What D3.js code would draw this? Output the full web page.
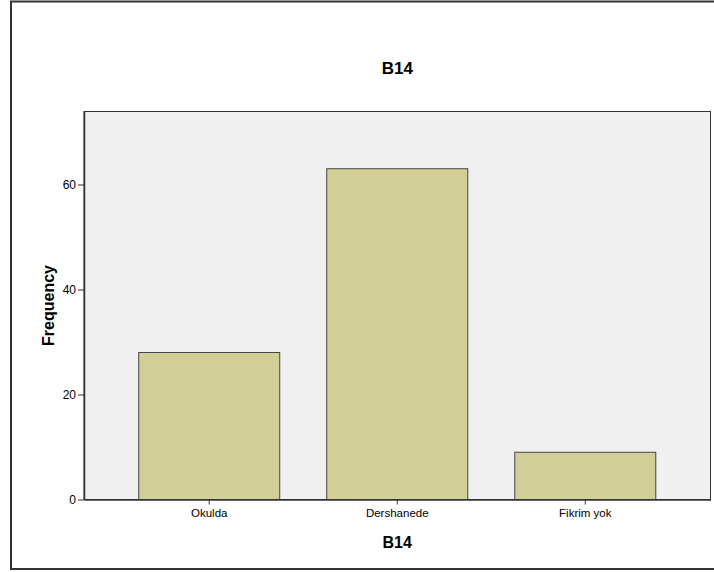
<!DOCTYPE html>
<html>
<head>
<meta charset="utf-8">
<script src="https://cdn.jsdelivr.net/npm/d3@7"></script>
<style>
html,body{margin:0;padding:0;background:#fff;}
svg{display:block;}
text{font-family:Arial,"Liberation Sans",sans-serif;fill:#000;}
</style>
</head>
<body>
<script>
const categories = ["Okulda", "Dershanede", "Fikrim yok"];
const frequencies = [28, 63, 9];
const yTicks = [0, 20, 40, 60];
const chartTitle = "B14";
const xTitle = "B14";
const yTitle = "Frequency";

const W = 714, H = 572;
const plot = {left: 84, right: 710.5, top: 111.5, bottom: 499.5};

const svg = d3.select("body").append("svg").attr("width", W).attr("height", H);

// outer frame
svg.append("rect").attr("x", 11).attr("y", 1.5).attr("width", 720).attr("height", 567.5)
  .attr("fill", "#fff").attr("stroke", "#333").attr("stroke-width", 2);

const x = d3.scaleBand().domain(categories).range([plot.left, plot.right])
  .paddingInner(0.25).paddingOuter(0.291);
const y = d3.scaleLinear().domain([0, 73.9]).range([plot.bottom, plot.top]);

// plot background
svg.append("rect").attr("x", plot.left).attr("y", plot.top)
  .attr("width", plot.right - plot.left).attr("height", plot.bottom - plot.top)
  .attr("fill", "#f0f0f0").attr("stroke", "#333").attr("stroke-width", 1);

// bars
svg.append("g").selectAll("rect").data(categories).join("rect")
  .attr("x", d => x(d))
  .attr("y", (d, i) => y(frequencies[i]))
  .attr("width", x.bandwidth())
  .attr("height", (d, i) => y(0) - y(frequencies[i]))
  .attr("fill", "#d2ce98").attr("stroke", "#444").attr("stroke-width", 1);

// y axis
const yAxis = svg.append("g").attr("transform", `translate(${plot.left},0)`)
  .call(d3.axisLeft(y).tickValues(yTicks).tickSize(6).tickSizeOuter(0).tickPadding(2).tickFormat(d3.format("d")));
yAxis.select(".domain").attr("stroke", "#333").attr("stroke-width", 1.5);
yAxis.selectAll(".tick line").attr("stroke", "#333");
yAxis.selectAll("text").style("font-size", "12px").attr("fill", "#222");

// x axis
const xAxis = svg.append("g").attr("transform", `translate(0,${plot.bottom})`)
  .call(d3.axisBottom(x).tickSize(5).tickPadding(4).tickSizeOuter(0));
xAxis.select(".domain").attr("stroke", "#333").attr("stroke-width", 1.5);
xAxis.selectAll(".tick line").attr("stroke", "#333");
xAxis.selectAll("text").style("font-size", "11.5px").attr("fill", "#222");

// titles
const cx = (plot.left + plot.right) / 2;
svg.append("text").attr("x", cx).attr("y", 74).attr("text-anchor", "middle")
  .style("font-size", "17px").style("font-weight", "bold").text(chartTitle);
svg.append("text").attr("x", cx).attr("y", 548).attr("text-anchor", "middle")
  .style("font-size", "16px").style("font-weight", "bold").text(xTitle);
svg.append("text").attr("transform", `translate(54,${(plot.top + plot.bottom) / 2}) rotate(-90)`)
  .attr("text-anchor", "middle")
  .style("font-size", "16px").style("font-weight", "bold").text(yTitle);
</script>
</body>
</html>
